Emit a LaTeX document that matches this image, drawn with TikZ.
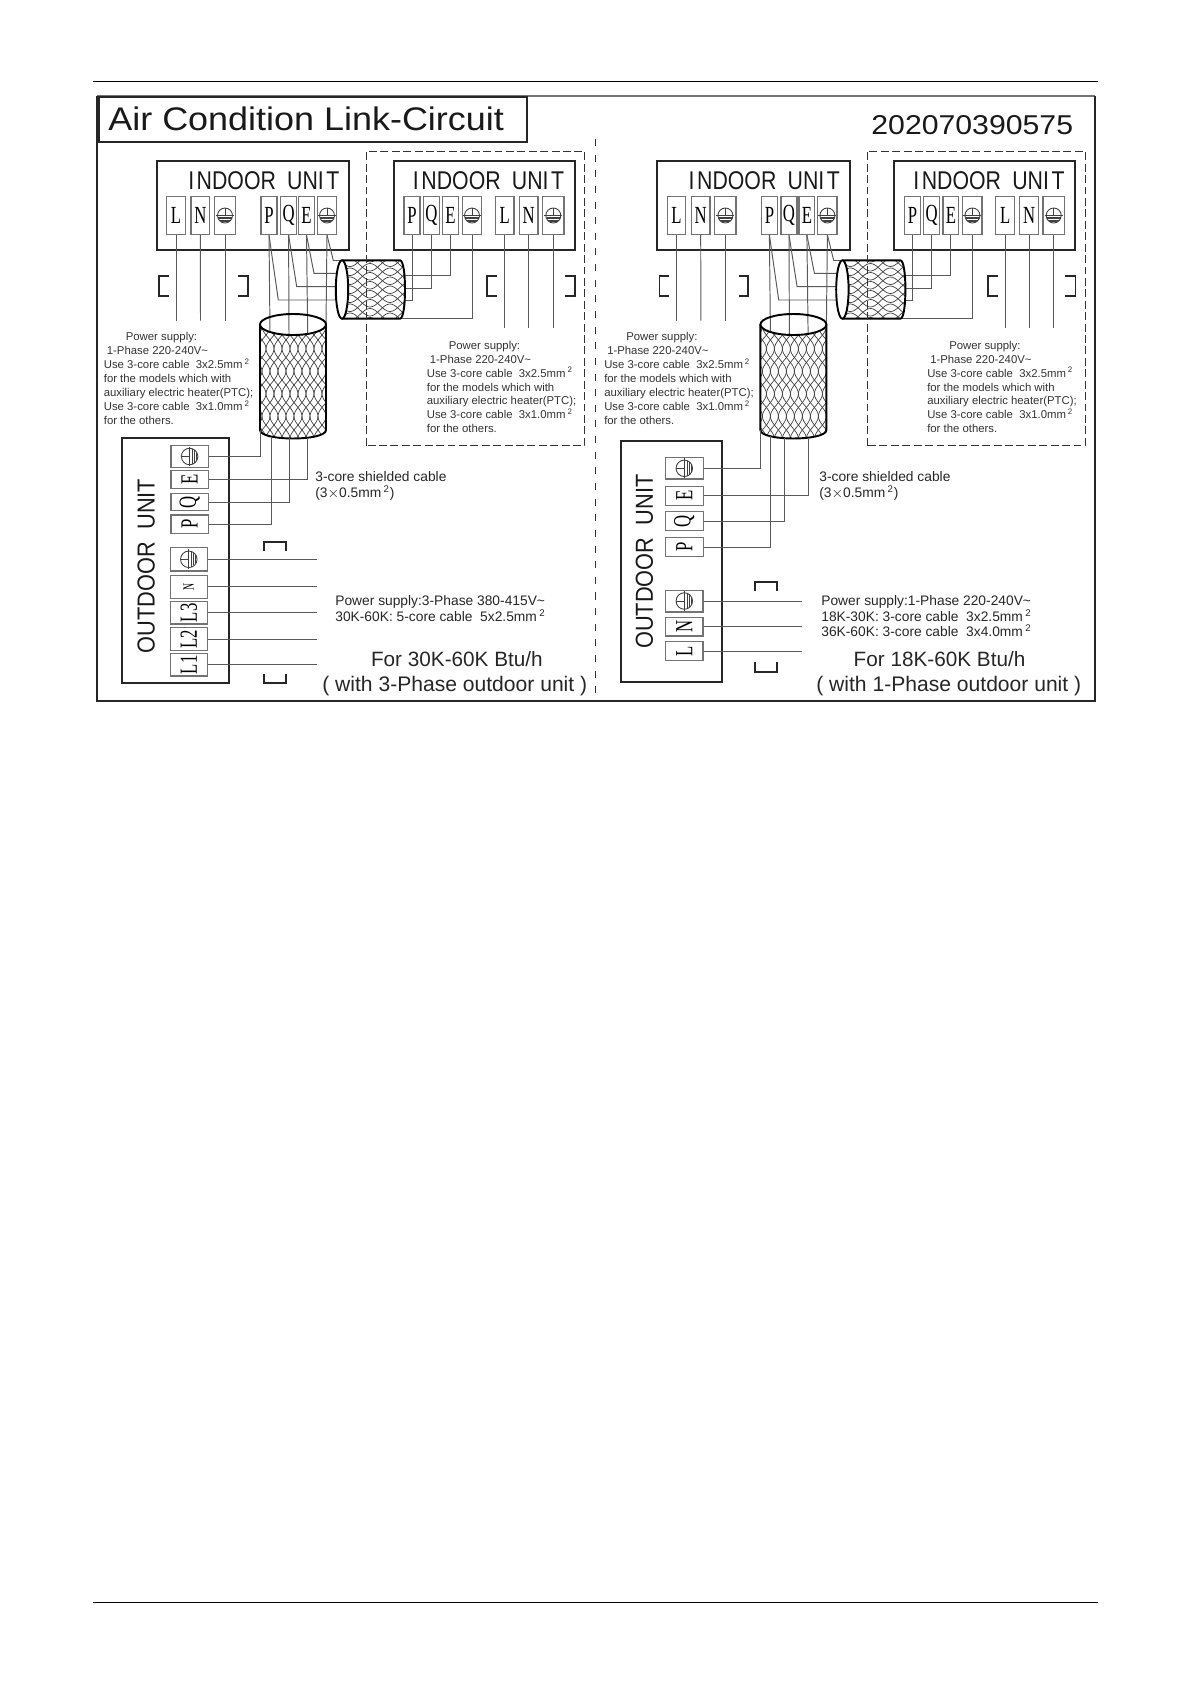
\documentclass[tikz,border=0pt]{standalone}
\usepackage{fontspec}
\setmainfont{Liberation Sans}
\newfontfamily\termfont{Liberation Serif}
\def\pxu{0.02cm}
\newcommand{\termtxt}[1]{{\termfont\fontsize{14}{14}\selectfont\scalebox{.68}[1]{#1}}}
\newcommand{\termrot}[1]{\rotatebox{90}{\termtxt{#1}}}
\newcommand{\supplylines}{%
    \hspace*{22\dimexpr\pxu\relax}Power supply:\\
    \hspace*{3\dimexpr\pxu\relax}1-Phase 220-240V\textasciitilde\\
    Use 3-core cable\ \ 3x2.5mm\,\textsuperscript{2}\\
    for the models which with\\
    auxiliary electric heater(PTC);\\
    Use 3-core cable\ \ 3x1.0mm\,\textsuperscript{2}\\
    for the others.}
\tikzset{
    term/.style 2 args={draw=black!55,line width=.75pt,fill=white,inner sep=0pt,minimum width=#1*\pxu,minimum height=#2*\pxu},
    wire/.style={draw=black!65,line width=.55pt},
    unitbox/.style={draw=black!85,line width=1.1pt},
    cablerim/.style={draw=black,line width=1.1pt},
    weave/.style={draw=black!75,line width=.4pt},
    brk/.style={draw=black!85,line width=1pt},
    txt/.style={inner sep=0pt,anchor=base west},
    smalltxt/.style={inner sep=0pt,anchor=north west,align=left,text=black!80,font=\fontsize{6.46}{7.94}\selectfont},
    midtxt/.style={txt,text=black!85,font=\fontsize{7.85}{8.9}\selectfont},
    bigtxt/.style={txt,text=black!85,font=\fontsize{11.8}{12}\selectfont},
    unittxt/.style={txt,xscale=.83,transform shape,text=black!90,font=\fontsize{14.6}{14}\selectfont},
    gndsym/.pic={
        \draw[black!75,line width=.5pt] (0,0) circle (7.5);
        \draw[black!75,line width=.5pt] (0,-7.5) -- (0,0);
        \draw[black!75,line width=.5pt] (-9,0) -- (9,0);
        \draw[black!75,line width=.6pt] (-6.8,2.5) -- (6.8,2.5);
        \draw[black!75,line width=.6pt] (-5.6,4.6) -- (5.6,4.6);
        \draw[black!75,line width=.6pt] (-3.6,6.4) -- (3.6,6.4);
    }
}
\begin{document}
\begin{tikzpicture}[x=\pxu,y=-\pxu]
    \useasboundingbox (0,0) rectangle (1190,1684);
    \draw[line width=.8pt] (92.7,81.7) -- (1098,81.7);
    \draw[line width=.8pt] (92.7,1602.3) -- (1098,1602.3);

    % outer frame
    \draw[black!55,line width=.6pt] (97,96) -- (1095,96);
    \draw[black!85,line width=1.1pt] (97,95.5) -- (97,701) -- (1095,701) -- (1095,95.5);
    \draw[black!80,line width=.5pt,dash pattern=on 4pt off 4.9pt] (595,139) -- (595,693);

    \node[unitbox,line width=1.1pt,inner sep=0pt,minimum width=427.7*\pxu,minimum height=45.3*\pxu] (titlebox) at (313.2,119.3) {};
    \node[txt,xscale=1.1,transform shape,text=black!90,font=\fontsize{18.6}{18}\selectfont] (title) at (108,130.5) {Air Condition Link-Circuit};
    \node[txt,xscale=1.11,transform shape,text=black!90,font=\fontsize{15.5}{15}\selectfont] (partno) at (871,134.5) {202070390575};

    \foreach \pn/\dx in {l/0,r/500.4} {
    \begin{scope}[shift={(\dx,0)}]
        \node[unitbox,inner sep=0pt,minimum width=192.6*\pxu,minimum height=89*\pxu] (\pn unita) at (253,205.8) {};
        \node[unitbox,inner sep=0pt,minimum width=181.3*\pxu,minimum height=89*\pxu] (\pn unitb) at (484.4,205.8) {};
        \node[unittxt] (\pn namea) at (188,189.3) {I\hspace{.12em}NDOOR\hspace{.25em} UNI\hspace{.12em}T};
        \node[unittxt] (\pn nameb) at (412.7,189.3) {I\hspace{.12em}NDOOR\hspace{.25em} UNI\hspace{.12em}T};

        % terminals of the first unit
        \node[term={18.4}{37.6}] (\pn aL) at (176,215.5) {\termtxt{L}};
        \node[term={18.7}{37.6}] (\pn aN) at (200.3,215.5) {\termtxt{N}};
        \node[term={21.4}{37.6}] (\pn aG) at (225,215.5) {};
        \node[term={16}{37.6}] (\pn aP) at (269,215.5) {\termtxt{P}};
        \node[term={16}{37.6}] (\pn aQ) at (288.6,215.5) {\termtxt{Q}};
        \node[term={15.7}{37.6}] (\pn aE) at (306.5,215.5) {\termtxt{E}};
        \node[term={19.4}{37.6}] (\pn aT) at (327,215.5) {};
        \pic at (\pn aG) {gndsym};
        \pic at (\pn aT) {gndsym};

        % terminals of the second unit
        \node[term={16}{37.6}] (\pn bP) at (412,215.5) {\termtxt{P}};
        \node[term={16}{37.6}] (\pn bQ) at (431.3,215.5) {\termtxt{Q}};
        \node[term={15.6}{37.6}] (\pn bE) at (450.5,215.5) {\termtxt{E}};
        \node[term={19.4}{37.6}] (\pn bT) at (472,215.5) {};
        \node[term={18.7}{37.6}] (\pn bL) at (504.7,215.5) {\termtxt{L}};
        \node[term={18.7}{37.6}] (\pn bN) at (528.7,215.5) {\termtxt{N}};
        \node[term={21.3}{37.6}] (\pn bG) at (553.3,215.5) {};
        \pic at (\pn bT) {gndsym};
        \pic at (\pn bG) {gndsym};

        % power supply wires
        \coordinate (\pn aLend) at (176,320.7);
        \coordinate (\pn aNend) at (200.5,320.7);
        \coordinate (\pn aGend) at (225,320.7);
        \coordinate (\pn bLend) at (504.7,327.7);
        \coordinate (\pn bNend) at (528.7,327.7);
        \coordinate (\pn bGend) at (553.3,327.7);
        \foreach \w in {aL,aN,aG,bL,bN,bG}
            \draw[wire] (\pn\w.south) -- (\pn\w end);

        % wires into the horizontal cable
        \coordinate (\pn hP) at (342,300);
        \coordinate (\pn hQ) at (342,286.7);
        \coordinate (\pn hE) at (342,273.3);
        \coordinate (\pn hT) at (342,260.5);
        \draw[wire] (\pn aP.south) -- (278.3,300) -- (\pn hP);
        \draw[wire] (\pn aQ.south) -- (296.7,286.7) -- (\pn hQ);
        \draw[wire] (\pn aE.south) -- (314,273.3) -- (\pn hE);
        \draw[wire] (\pn aT.south) -- (333.3,260.5) -- (\pn hT);
        \coordinate (\pn kP) at (395,300);
        \coordinate (\pn kQ) at (395,288.3);
        \coordinate (\pn kE) at (395,275);
        \coordinate (\pn kT) at (395,318.3);
        \draw[wire] (\pn bP.south) |- (\pn kP);
        \draw[wire] (\pn bQ.south) |- (\pn kQ);
        \draw[wire] (\pn bE.south) |- (\pn kE);
        \draw[wire] (\pn bT.south) |- (\pn kT);

        % horizontal cable
        \fill[white] (342,260.3) -- (400,260.3) .. controls (406.7,260.3) and (406.7,318.7) .. (400,318.7) -- (342,318.7) -- cycle;
        \begin{scope}
            \clip (342,260.3) -- (400,260.3) .. controls (406.7,260.3) and (406.7,318.7) .. (400,318.7) -- (342,318.7) .. controls (350.3,318.7) and (350.3,260.3) .. (342,260.3);
            \foreach \ry in {247,256,...,328} {
                \draw[weave,domain=335:412,samples=40,smooth] plot ({\x},{\ry+6*sin(\x*9)});
                \draw[weave,domain=335:412,samples=40,smooth] plot ({\x},{\ry+4.5-6*sin(\x*9)});
            }
        \end{scope}
        \draw[cablerim] (342,260.3) -- (400,260.3) .. controls (406.7,260.3) and (406.7,318.7) .. (400,318.7) -- (342,318.7);
        \draw[cablerim,fill=white] (342,289.5) circle [x radius=6.2,y radius=29.2];

        % vertical cable
        \fill[white] (260,324.5) .. controls (260,310.5) and (326,310.5) .. (326,324.5) -- (326,430) .. controls (326,441.3) and (260,441.3) .. (260,430) -- cycle;
        \begin{scope}
            \clip (260,324.5) .. controls (260,338.5) and (326,338.5) .. (326,324.5) -- (326,430) .. controls (326,441.3) and (260,441.3) .. (260,430) -- cycle;
            \foreach \rx in {248,256,...,336} {
                \draw[weave,domain=320:445,samples=50,smooth,variable=\y] plot ({\rx+6*sin(\y*8)},{\y});
                \draw[weave,domain=320:445,samples=50,smooth,variable=\y] plot ({\rx+4-6*sin(\y*8)},{\y});
            }
        \end{scope}
        \coordinate (\pn vP) at (270,332);
        \coordinate (\pn vQ) at (289,335);
        \coordinate (\pn vE) at (307.7,333.9);
        \coordinate (\pn vT) at (326,324.5);
        \draw[wire] (\pn aP.south) -- (\pn vP);
        \draw[wire] (\pn aQ.south) -- (\pn vQ);
        \draw[wire] (\pn aE.south) -- (\pn vE);
        \draw[wire] (\pn aT.south) -- (\pn vT);
        \draw[cablerim] (293,324.5) circle [x radius=33,y radius=10.5];
        \draw[cablerim] (260,324.5) -- (260,430) .. controls (260,441.3) and (326,441.3) .. (326,430) -- (326,324.5);

        % area of the second unit
        \draw[black!80,line width=.5pt,dash pattern=on 4.5pt off 2pt] (366.7,445.7) -- (366.7,151) -- (584.6,151) -- (584.6,445.7) -- cycle;

        % brackets
        \draw[brk] (169,276) -- (159,276) -- (159,295.7) -- (169,295.7);
        \draw[brk] (238.3,276) -- (247.7,276) -- (247.7,295.7) -- (238.3,295.7);
        \draw[brk] (497.3,276) -- (487.3,276) -- (487.3,295.7) -- (497.3,295.7);
        \draw[brk] (565,276) -- (575,276) -- (575,295.7) -- (565,295.7);

        \node[smalltxt] (\pn supa) at (103.5,332.2) {\supplylines};
        \node[smalltxt] (\pn supb) at (426.5,340.6) {\supplylines};
    \end{scope}
    }

    % outdoor unit, 3-phase
    \node[unitbox,inner sep=0pt,minimum width=107*\pxu,minimum height=245*\pxu] (lout) at (175.8,560.2) {};
    \node[txt,rotate=90,xscale=.885,transform shape,text=black!90,font=\fontsize{14}{14}\selectfont] (lname) at (154.5,653.3) {OUTDOOR\ \ UNIT};
    \node[term={37.3}{21.7}] (lOT) at (189.6,456.5) {};
    \node[term={37.3}{17.6}] (lOE) at (189.6,479.5) {\termrot{E}};
    \node[term={37.3}{17.4}] (lOQ) at (189.6,502) {\termrot{Q}};
    \node[term={37.3}{18.3}] (lOP) at (189.6,524.2) {\termrot{P}};
    \node[term={37}{23.3}] (lOG) at (188.8,559.3) {};
    \node[term={37}{23}] (lON) at (188.8,586.8) {\rotatebox{90}{\termfont\fontsize{9}{9}\selectfont\scalebox{.62}[1]{N}}};
    \node[term={37}{22.7}] (lOC) at (188.8,612.7) {\termrot{L3}};
    \node[term={37}{22.6}] (lOB) at (188.8,639) {\termrot{L2}};
    \node[term={37}{22.7}] (lOA) at (188.8,664.7) {\termrot{L1}};
    \pic[rotate=90,scale=1.1] at (lOT) {gndsym};
    \pic[rotate=90,scale=1.1] at (lOG) {gndsym};

    \coordinate (lbT) at (260,430);
    \coordinate (lbE) at (307.7,437.6);
    \coordinate (lbQ) at (289.3,438.4);
    \coordinate (lbP) at (271.7,436.5);
    \draw[wire] (lOT.east) -| (lbT);
    \draw[wire] (lOE.east) -| (lbE);
    \draw[wire] (lOQ.east) -| (lbQ);
    \draw[wire] (lOP.east) -| (lbP);
    \coordinate (lpG) at (316.7,559.3);
    \coordinate (lpN) at (316.7,586.8);
    \coordinate (lpC) at (316.7,612.7);
    \coordinate (lpB) at (316.7,639);
    \coordinate (lpA) at (316.7,664.7);
    \foreach \w/\e in {lOG/lpG,lON/lpN,lOC/lpC,lOB/lpB,lOA/lpA}
        \draw[wire] (\w.east) -- (\e);
    \draw[brk] (264.3,551) -- (264.3,542.3) -- (286,542.3) -- (286,551);
    \draw[brk] (264.3,674) -- (264.3,683.3) -- (286,683.3) -- (286,674);

    \node[midtxt] (lcab) at (315,481.7) {3-core shielded cable};
    \node[midtxt] (lcabb) at (315,497.3) {(3$\times$0.5mm\,\textsuperscript{2})};
    \node[midtxt] (lpow) at (335,605.7) {Power supply:3-Phase 380-415V\textasciitilde};
    \node[midtxt] (lpowb) at (335,621.7) {30K-60K: 5-core cable\ \ 5x2.5mm\,\textsuperscript{2}};
    \node[bigtxt] (lfor) at (370.7,666.7) {For 30K-60K Btu/h};
    \node[bigtxt,font=\fontsize{12}{12}\selectfont] (lwith) at (322,691.7) {( with 3-Phase outdoor unit )};

    % outdoor unit, 1-phase
    \node[unitbox,inner sep=0pt,minimum width=101*\pxu,minimum height=241.3*\pxu] (rout) at (671.5,561.7) {};
    \node[txt,rotate=90,xscale=.885,transform shape,text=black!90,font=\fontsize{14}{14}\selectfont] (rname) at (652.8,649) {OUTDOOR\ \ UNIT};
    \node[term={38}{21.7}] (rOT) at (684.3,468.3) {};
    \node[term={38}{19}] (rOE) at (684.3,495.7) {\termrot{E}};
    \node[term={38}{18.7}] (rOQ) at (684.3,521) {\termrot{Q}};
    \node[term={38}{19}] (rOP) at (684.3,547) {\termrot{P}};
    \node[term={37.5}{21.7}] (rOG) at (684.3,601) {};
    \node[term={37.5}{18.7}] (rON) at (684.3,626.7) {\termrot{N}};
    \node[term={37.5}{19}] (rOL) at (684.3,651) {\termrot{L}};
    \pic[rotate=90,scale=1.1] at (rOT) {gndsym};
    \pic[rotate=90,scale=1.1] at (rOG) {gndsym};

    \coordinate (rbT) at (760.7,430);
    \coordinate (rbE) at (808.7,437.5);
    \coordinate (rbQ) at (784.7,438.2);
    \coordinate (rbP) at (770,436);
    \draw[wire] (rOT.east) -| (rbT);
    \draw[wire] (rOE.east) -| (rbE);
    \draw[wire] (rOQ.east) -| (rbQ);
    \draw[wire] (rOP.east) -| (rbP);
    \coordinate (rpG) at (801.7,601);
    \coordinate (rpN) at (801.7,626.7);
    \coordinate (rpL) at (801.7,651);
    \foreach \w/\e in {rOG/rpG,rON/rpN,rOL/rpL}
        \draw[wire] (\w.east) -- (\e);
    \draw[brk] (754.7,591) -- (754.7,582.3) -- (776.7,582.3) -- (776.7,591);
    \draw[brk] (754.7,662.3) -- (754.7,671.7) -- (776.7,671.7) -- (776.7,662.3);

    \node[midtxt] (rcab) at (819,481.7) {3-core shielded cable};
    \node[midtxt] (rcabb) at (819,497.3) {(3$\times$0.5mm\,\textsuperscript{2})};
    \node[midtxt] (rpow) at (821,605.7) {Power supply:1-Phase 220-240V\textasciitilde};
    \node[midtxt] (rpowb) at (821,621.7) {18K-30K: 3-core cable\ \ 3x2.5mm\,\textsuperscript{2}};
    \node[midtxt] (rpowc) at (821,636.7) {36K-60K: 3-core cable\ \ 3x4.0mm\,\textsuperscript{2}};
    \node[bigtxt] (rfor) at (853.3,666.7) {For 18K-60K Btu/h};
    \node[bigtxt,font=\fontsize{12}{12}\selectfont] (rwith) at (816,691.7) {( with 1-Phase outdoor unit )};
\end{tikzpicture}
\end{document}
